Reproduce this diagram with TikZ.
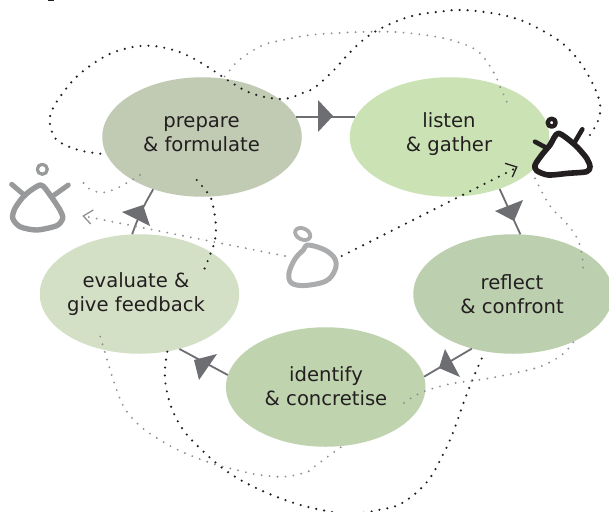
\documentclass[tikz,border=0pt]{standalone}
\usepackage{fontspec}
\setmainfont{DejaVu Sans}
\definecolor{cprep}{HTML}{C1CAB3}
\definecolor{clisten}{HTML}{CBE2B5}
\definecolor{creflect}{HTML}{BCCFAE}
\definecolor{cident}{HTML}{BFD3AE}
\definecolor{ceval}{HTML}{D3E0C5}
\definecolor{ink}{HTML}{231F20}
\definecolor{arrowgrey}{HTML}{6D6E71}
\definecolor{dotgrey}{HTML}{8F9092}
\definecolor{figgrey}{HTML}{98999B}
\definecolor{figlight}{HTML}{ABACAE}
\tikzset{
  x=1pt,y=-1pt,
  stage/.style={ellipse,minimum width=199.5pt,minimum height=119.5pt,inner sep=0pt,draw=none},
  stagetext/.style={align=center,text=ink,font=\fontsize{19.6}{24}\selectfont,inner sep=0pt},
  flow/.style={draw=arrowgrey,line width=1.8pt},
  tip/.style={fill=arrowgrey,draw=none},
  blackdots/.style={draw=ink,line width=2.4pt,line cap=round,dash pattern=on 0pt off 8pt},
  greydots/.style={draw=dotgrey,line width=2.1pt,line cap=round,dash pattern=on 0pt off 8pt},
  figline/.style={line width=#1,line cap=round,line join=round,fill=none},
  chevron/.style={line width=1.3pt,line join=miter,fill=none},
}
\usetikzlibrary{shapes.geometric}
\begin{document}
\begin{tikzpicture}
\useasboundingbox (0,0) rectangle (609,511);
\clip (0,0) rectangle (609,511);
\fill[white] (0,0) rectangle (609,511);
\draw[ink,line width=1pt] (48,0.3) -- (54,0.3);

% connectors (under the ellipses)
\node[stage,fill=cprep]    (prep)    at (202,137)   {};
\node[stage,fill=clisten]  (listen)  at (449.5,137) {};
\node[stage,fill=creflect] (reflect) at (513,294)   {};
\node[stage,fill=cident]   (ident)   at (325.7,387) {};
\node[stage,fill=ceval]    (eval)    at (139.5,294) {};

\node[stagetext] (preplab)    at (201.5,134.5) {prepare\\\& formulate};
\node[stagetext] (listenlab)  at (449,134.5) {listen\\\& gather};
\node[stagetext] (reflectlab) at (512,294.5) {reflect\\\& confront};
\node[stagetext] (identlab)   at (326,386.5) {identify\\\& concretise};
\node[stagetext] (evallab)    at (136,294.5) {evaluate \&\\give feedback};

\draw[flow] (prep.12) -- (listen.168);
\draw[flow] (listen.-46) -- (reflect.83);
\draw[flow] (reflect.233) -- (ident.6.4);
\draw[flow] (ident.173.6) -- (eval.-54);
\draw[flow] (eval.97) .. controls (139,215) and (143,207) .. (prep.227);
\fill[tip] (318,100) -- (318,132) -- (333,116) -- cycle;
\fill[tip] (495,211) -- (523,200) -- (514,221) -- cycle;
\fill[tip] (445,349) -- (460,377) -- (439,368) -- cycle;
\fill[tip] (217,354) -- (199,380) -- (194,360) -- cycle;
\fill[tip] (122,212) -- (143,205) -- (150,226) -- cycle;

% black dotted route
\draw[blackdots] plot[smooth,tension=0.6] coordinates {(590,135) (598.3,120) (600,103.3) (591.7,81.7) (578.3,60) (561.7,42.7) (540,29.3) (518.3,19.3) (493.3,13.3) (461.7,10) (436.7,12) (413.3,15.7) (390,24) (368.3,36) (350,52.3) (333.3,70.7) (315,87.3) (305,92) (283.3,99) (253.3,94) (230,81.7) (210,68.3) (190,56.7) (173.3,50) (150,45.7) (126.7,48.3) (103.3,57.3) (76.7,76.7) (56.7,101.7) (50,116.7) (50.7,126.7) (56.7,140) (78.3,150) (103.3,154)};
\draw[blackdots] plot[smooth,tension=0.6] coordinates {(196.7,180) (206.7,191.7) (211.7,200) (215.7,223.3) (215,240) (210,255) (204,270)};
\draw[blackdots] plot[smooth,tension=0.6] coordinates {(167.3,351.7) (165,368.3) (165.7,385) (171.7,408.3) (183.3,430) (200,448.3) (225,470) (253.3,486.7) (290,501.7) (321.7,510) (350,514) (378.3,510) (401.7,503.3) (426.7,482.3) (443.3,454) (453.3,431.7) (464.3,400.7) (473.3,377.7) (483.3,355)};

% grey dotted routes
\draw[greydots] plot[smooth,tension=0.6] coordinates {(506.7,101.7) (500,86.7) (493.3,71.7) (478.3,51.7) (456.7,41.7) (431.7,36) (400,32.3) (375,31.7) (343.3,32.7) (310,35) (286.7,39.3) (263.3,45) (240,59.3) (230,70) (224,77.3)};
\draw[greydots] plot[smooth,tension=0.6] coordinates {(140,175) (131.7,180) (116.7,188.3) (101.7,192.7) (88.3,188.3) (82.7,181.7)};
\draw[greydots] plot[smooth,tension=0.6] coordinates {(535,178.3) (542.3,192.7) (551.7,208.3) (565,221.7) (576.7,237.3) (581.7,253.3) (583.3,270)};
\draw[greydots] plot[smooth,tension=0.6] coordinates {(573.3,342.3) (561.7,355) (541.7,366) (518.3,372.3) (485,379) (453.3,383.3) (430,389.3) (415,395.7) (401,405)};
\draw[greydots] plot[smooth,tension=0.6] coordinates {(340.7,447.3) (327.7,456.7) (314.3,466.7) (307.7,471.7) (285,476.7) (260,475) (236.7,470) (211.7,463.3) (181.7,451.7) (160,440) (140,426) (124.3,407.7) (115,385) (107.7,361.7) (98.3,330)};

% figures
\draw[figgrey,figline=3.2pt] (42.3,169.3) circle (5);
\draw[figgrey,figline=5.4pt] plot[smooth cycle,tension=0.45] coordinates {(40.7,185) (50,195) (60,210) (62.7,218.3) (56.7,225.7) (36.7,230) (20,226.7) (12.7,218.3) (15,208.3) (25,195)};
\draw[figgrey,figline=5pt] (11.7,184.3) -- (25,195.7) (68.3,185) -- (53.3,195.7);

\draw[ink,figline=4.4pt] (551.7,122.7) circle (4);
\draw[ink,figline=5.6pt] plot[smooth cycle,tension=0.45] coordinates {(558.3,133.3) (575,145) (586.7,158.3) (590,166.7) (586.7,171.7) (568.3,173.3) (548.3,175) (536.7,170.7) (535,165) (541.7,155) (550,145)};
\draw[ink,figline=4.6pt] (535,141.7) -- (546.7,148) (582.3,129.3) -- (575,141.7);

\draw[figlight,figline=3.8pt,rotate around={-25:(302.7,234)}] (302.7,234) ellipse (8 and 5.5);
\draw[figlight,figline=5pt] plot[smooth cycle,tension=0.6] coordinates {(308.3,245) (325,250) (335,259) (335,270) (326,281) (305,285.5) (291.5,283) (289,273) (295,259) (303.3,250)};

% dotted arrows leaving the middle figure
\coordinate (midleft)  at (285,256);
\coordinate (midright) at (341.7,256);
\coordinate (greyend)  at (86,216.5);
\coordinate (blackend) at (514,169);
\draw[greydots] (midleft) -- (greyend);
\draw[dotgrey,chevron] (93.3,210) -- (83.3,216) -- (90.7,224);
\draw[blackdots] (midright) -- (blackend);
\draw[ink,chevron] (505,163.3) -- (516.7,167) -- (512.3,177);
\end{tikzpicture}
\end{document}
